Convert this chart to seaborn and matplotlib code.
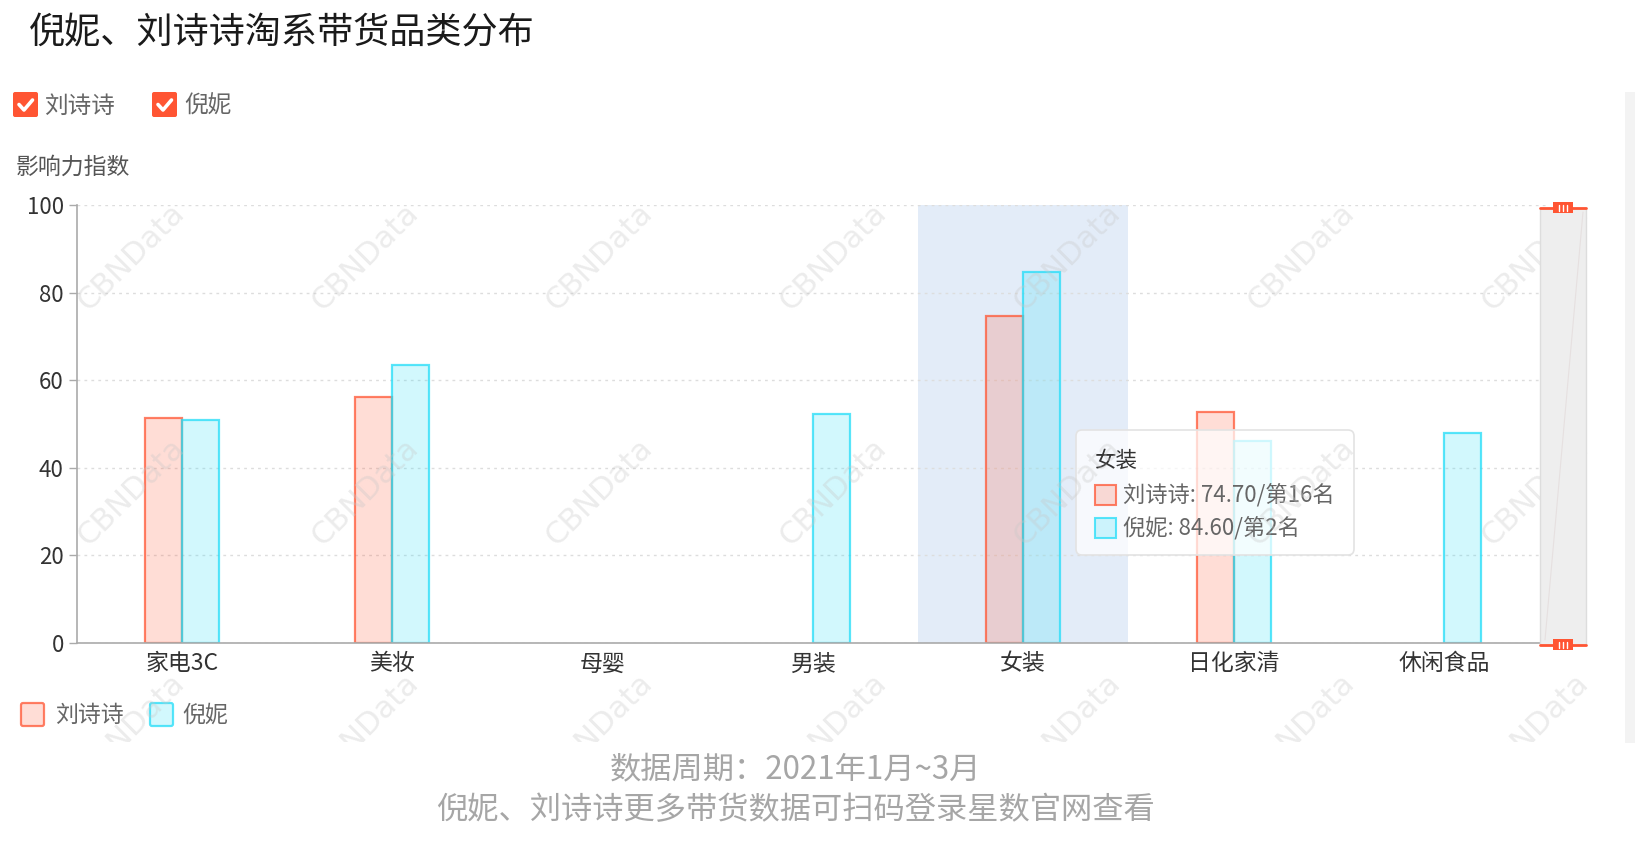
import numpy as np
import pandas as pd
import seaborn as sns
from matplotlib import pyplot as plt
from matplotlib.patches import Rectangle, FancyBboxPatch
from matplotlib.transforms import Bbox

# data
categories = ["家电3C", "美妆", "母婴", "男装", "女装", "日化家清", "休闲食品"]
series = ["刘诗诗", "倪妮"]
liu_values = [51.3, 56.2, None, None, 74.7, 52.8, None]
ni_values = [50.9, 63.4, None, 52.2, 84.6, 46.1, 47.8]
y_ticks = [0, 20, 40, 60, 80, 100]
tip_category = "女装"
tip_ranks = [16, 2]

title = "倪妮、刘诗诗淘系带货品类分布"
y_label = "影响力指数"
footer = ["数据周期：2021年1月~3月", "倪妮、刘诗诗更多带货数据可扫码登录星数官网查看"]
colors = {"刘诗诗": "#FF5533", "倪妮": "#22DDF8"}

rows = []
for s, vals in zip(series, [liu_values, ni_values]):
    for c, v in zip(categories, vals):
        rows.append((c, s, np.nan if v is None else v))
df = pd.DataFrame(rows, columns=["品类", "主播", "影响力指数"])

sns.set_theme(style="white")
plt.rcParams['font.family'] = ['Noto Sans CJK SC', 'DejaVu Sans']

W, H = 1648, 847
fig = plt.figure(figsize=(W / 100, H / 100), dpi=100)
fig.patch.set_facecolor("white")

# main axes, placed in pixel terms (right end hides under the slider)
x0, x1, ytop, ybot = 77, 1549, 205, 642.7
ax = fig.add_axes([x0 / W, (H - ybot) / H, (x1 - x0) / W, (ybot - ytop) / H])

sns.barplot(data=df, x="品类", y="影响力指数", hue="主播", order=categories,
            hue_order=series, palette=colors, saturation=1, width=0.352, dodge=True,
            errorbar=None, legend=False, ax=ax, zorder=2)

for p in ax.patches:
    fc = p.get_facecolor()[:3]
    p.set_facecolor((*fc, 0.2))
    p.set_edgecolor((*fc, 0.75))
    p.set_linewidth(1.6)

ti = categories.index(tip_category)
ax.axvspan(ti - 0.5, ti + 0.5, color="#E3ECF8", zorder=0, lw=0)

ax.set_xlim(-0.5, len(categories) - 0.5)
ax.set_ylim(0, 100)
ax.set_yticks(y_ticks)
ax.set_xlabel("")
ax.set_ylabel("")
ax.set_axisbelow(True)
ax.yaxis.grid(True, linestyle=(0, (2, 3)), color="#DDDDDD", lw=1)
ax.xaxis.grid(False)
for side in ["top", "right"]:
    ax.spines[side].set_visible(False)
for side in ["left", "bottom"]:
    ax.spines[side].set_color("#AAAAAA")
    ax.spines[side].set_linewidth(1.2)
ax.set_xticks(np.arange(-0.5, len(categories)), minor=True)
ax.tick_params(axis="x", which="major", length=0, pad=7, labelsize=16.5, labelcolor="#333333")
ax.tick_params(axis="x", which="minor", length=12, width=1, color="#DDDDDD", direction="out")
ax.tick_params(axis="y", length=6, width=1, color="#AAAAAA", pad=3.5, labelsize=16,
               labelcolor="#333333", left=True)
ax.patch.set_alpha(0)

# overlay in pixel coordinates for the page furniture
ov = fig.add_axes([0, 0, 1, 1], zorder=5)
ov.set_xlim(0, W)
ov.set_ylim(H, 0)
ov.axis("off")
ov.patch.set_alpha(0)

ov.text(29, 33, title, fontsize=26, va="center", ha="left", color="#1A1A1A", fontweight="light")

# top legend with checkboxes
for bx, tx, name in [(13, 44, series[0]), (152, 184, series[1])]:
    ov.add_patch(FancyBboxPatch((bx, 92), 25, 25, boxstyle="round,pad=0,rounding_size=2",
                                facecolor="#FF5533", edgecolor="none"))
    ov.plot([bx + 6, bx + 11, bx + 19.5], [104.5, 110, 100], color="white", lw=2.6,
            solid_capstyle="round", solid_joinstyle="round")
    ov.text(tx, 106, name, fontsize=17, va="center", ha="left", color="#666666")

ov.text(16, 167, y_label, fontsize=16.5, va="center", ha="left", color="#555555")

# bottom legend
for bx, tx, name in [(21, 55, series[0]), (150, 182, series[1])]:
    c = colors[name]
    ov.add_patch(FancyBboxPatch((bx, 703), 23, 23, boxstyle="round,pad=0,rounding_size=2",
                                facecolor=c, alpha=0.2, edgecolor="none"))
    ov.add_patch(FancyBboxPatch((bx, 703), 23, 23, boxstyle="round,pad=0,rounding_size=2",
                                facecolor="none", edgecolor=c, alpha=0.75, lw=1.6))
    ov.text(tx, 715, name, fontsize=16.5, va="center", ha="left", color="#666666")

# footer
ov.text(795, 770, footer[0], fontsize=22.5, va="center", ha="center", color="#A6A6A6", fontweight="light")
ov.text(795, 810, footer[1], fontsize=22.5, va="center", ha="center", color="#A6A6A6", fontweight="light")

# tooltip
ov.add_patch(FancyBboxPatch((1076, 430), 278, 125, boxstyle="round,pad=0,rounding_size=6",
                            facecolor="white", alpha=0.72, edgecolor="none"))
ov.add_patch(FancyBboxPatch((1076, 430), 278, 125, boxstyle="round,pad=0,rounding_size=6",
                            facecolor="none", edgecolor="#E3E3E3", lw=1.2))
ov.text(1094, 461, tip_category, fontsize=15.5, va="center", ha="left", color="#333333")
for k, (name, vals, ty) in enumerate([(series[0], liu_values, 495), (series[1], ni_values, 528)]):
    c = colors[name]
    ov.add_patch(Rectangle((1095, ty - 10), 21, 20, facecolor=c, alpha=0.2, edgecolor="none"))
    ov.add_patch(Rectangle((1095, ty - 10), 21, 20, facecolor="none", edgecolor=c, alpha=0.75, lw=1.5))
    ov.text(1123, ty, f"{name}: {vals[ti]:.2f}/第{tip_ranks[k]}名", fontsize=16,
            va="center", ha="left", color="#666666")

# watermarks
clip = Bbox.from_extents(0, H - 742, 1620, H - 92)
for wy in [257, 492, 727]:
    for wx in np.arange(131, 1620, 234):
        t = ov.text(wx, wy, "CBNData", fontsize=22, rotation=45, va="center", ha="center",
                    color="#C8C8C8", alpha=0.35, family="DejaVu Sans", rotation_mode="anchor")
        t.set_clip_box(clip)
        t.set_clip_on(True)

# right side zoom slider
ov.add_patch(Rectangle((1625, 92), 10, 651, facecolor="#F3F3F3", edgecolor="none", zorder=6))
ov.add_patch(Rectangle((1540, 208), 46, 437, facecolor="#EEEEEE", edgecolor="#DDDDDD", lw=1, zorder=6))
ov.plot([1583, 1545], [212, 640], color="#E6E0E0", lw=0.8, zorder=6)
for hy in [208, 645]:
    ov.plot([1540, 1586], [hy, hy], color="#FF5533", lw=2, zorder=7)
    ov.add_patch(Rectangle((1553, hy - 5.5), 20, 11, facecolor="#FF5533", edgecolor="none", zorder=7))
    for lx in [1559, 1563, 1567]:
        ov.plot([lx, lx], [hy - 3, hy + 3], color="white", lw=1, zorder=8)

fig.savefig("out.png", dpi=100)
